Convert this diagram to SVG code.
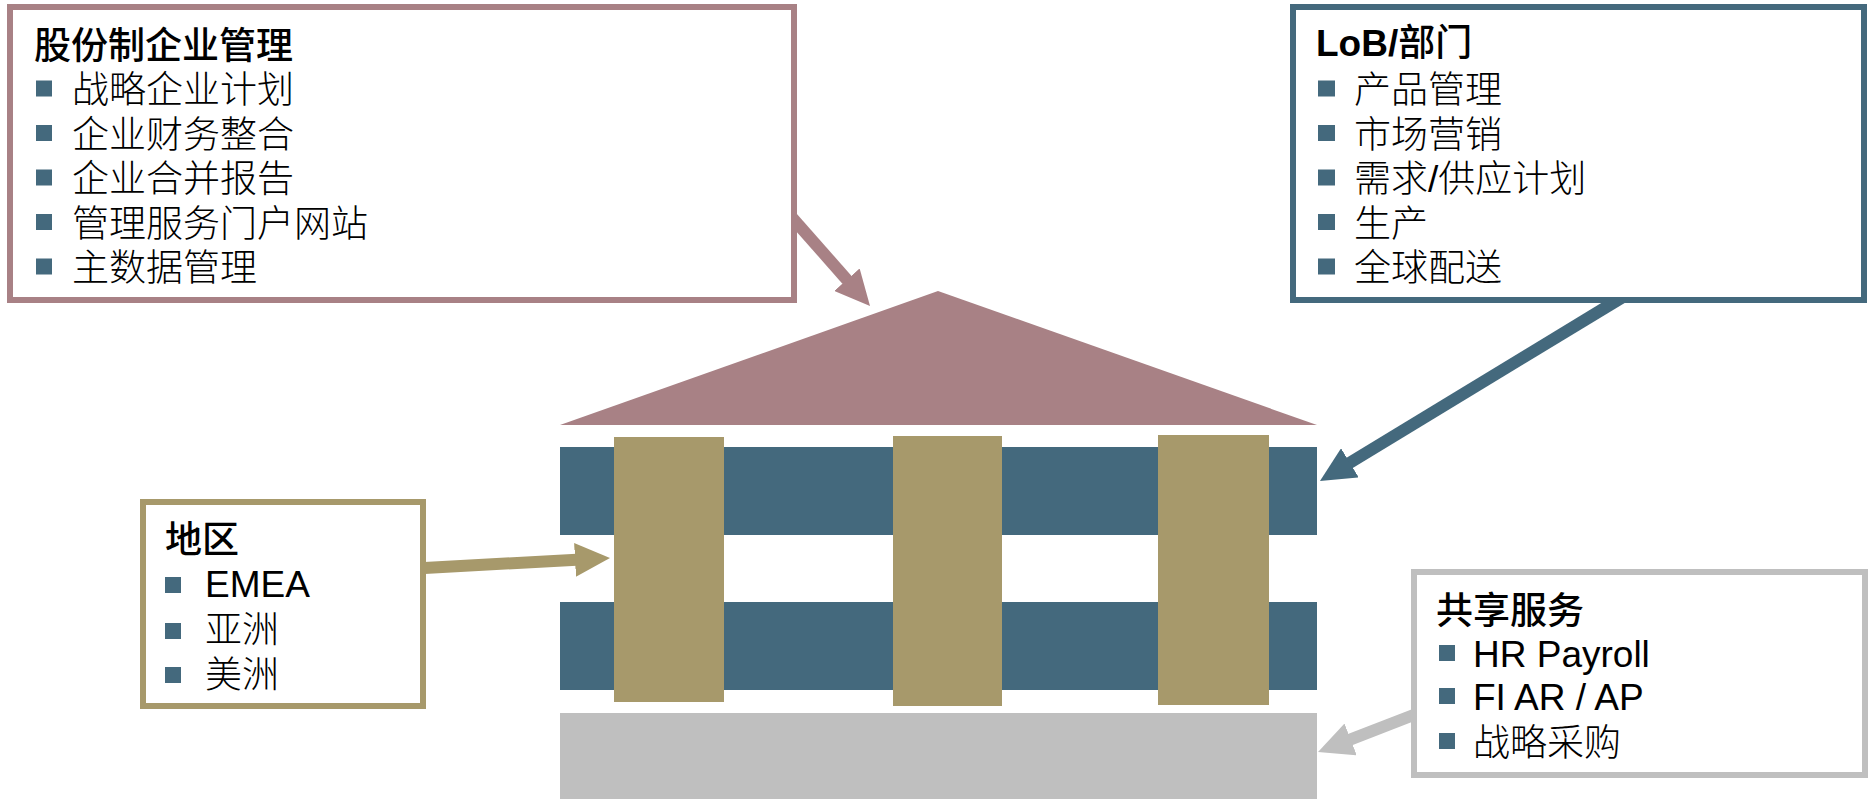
<svg xmlns="http://www.w3.org/2000/svg" width="1869" height="799" viewBox="0 0 1869 799">
<style>
  text { font-family: "Liberation Sans", "Noto Sans CJK SC", sans-serif; font-size: 37px; fill: #000; }
  .t { font-weight: 500; }
  .tb { font-weight: 700; }
  .it { font-weight: 300; }
  .box { fill: #fff; stroke-width: 6; }
  .bul { fill: #44697D; }
  .conn { fill: none; stroke-width: 12; }
</style>
<defs>
  <marker id="ahPink" markerUnits="userSpaceOnUse" markerWidth="35" markerHeight="34" viewBox="0 0 35 34" refX="20" refY="17" orient="auto"><path d="M0,0 L35,17 L0,34 Z" fill="#A88185"/></marker>
  <marker id="ahBlue" markerUnits="userSpaceOnUse" markerWidth="35" markerHeight="34" viewBox="0 0 35 34" refX="20" refY="17" orient="auto"><path d="M0,0 L35,17 L0,34 Z" fill="#44697D"/></marker>
  <marker id="ahTan" markerUnits="userSpaceOnUse" markerWidth="35" markerHeight="34" viewBox="0 0 35 34" refX="20" refY="17" orient="auto"><path d="M0,0 L35,17 L0,34 Z" fill="#A7996B"/></marker>
  <marker id="ahGray" markerUnits="userSpaceOnUse" markerWidth="35" markerHeight="34" viewBox="0 0 35 34" refX="20" refY="17" orient="auto"><path d="M0,0 L35,17 L0,34 Z" fill="#BFBFBF"/></marker>
</defs>
<rect width="1869" height="799" fill="#fff"/>

<g id="connectors">
  <line class="conn" x1="790" y1="215.2" x2="860.1" y2="294.7" stroke="#A88185" marker-end="url(#ahPink)"/>
  <line class="conn" x1="1622" y1="297.5" x2="1332.8" y2="473.2" stroke="#44697D" marker-end="url(#ahBlue)"/>
  <line class="conn" x1="420" y1="568.2" x2="595" y2="558.8" stroke="#A7996B" marker-end="url(#ahTan)"/>
  <line class="conn" x1="1420" y1="712.5" x2="1332" y2="746.6" stroke="#BFBFBF" marker-end="url(#ahGray)"/>
</g>

<g id="roof"><polygon points="938,291 560,425 1317,425" fill="#A88185"/></g>
<g id="band-lob-1"><rect x="560" y="447" width="757" height="88" fill="#44697D"/></g>
<g id="band-lob-2"><rect x="560" y="602" width="757" height="88" fill="#44697D"/></g>
<g id="base-shared"><rect x="560" y="713" width="757" height="86" fill="#BFBFBF"/></g>
<g id="column-1"><rect x="614" y="437" width="110" height="265" fill="#A7996B"/></g>
<g id="column-2"><rect x="893" y="436" width="109" height="270" fill="#A7996B"/></g>
<g id="column-3"><rect x="1158" y="435" width="111" height="270" fill="#A7996B"/></g>

<g id="box-enterprise">
  <rect class="box" x="10" y="7" width="784" height="293" stroke="#A88185"/>
  <text class="t" x="34" y="59">股份制企业管理</text>
  <rect class="bul" x="36" y="80.5" width="16" height="16"/>
  <text class="it" x="72" y="103">战略企业计划</text>
  <rect class="bul" x="36" y="125" width="16" height="16"/>
  <text class="it" x="72" y="147.5">企业财务整合</text>
  <rect class="bul" x="36" y="169.5" width="16" height="16"/>
  <text class="it" x="72" y="192">企业合并报告</text>
  <rect class="bul" x="36" y="214" width="16" height="16"/>
  <text class="it" x="72" y="236.5">管理服务门户网站</text>
  <rect class="bul" x="36" y="258.5" width="16" height="16"/>
  <text class="it" x="72" y="281">主数据管理</text>
</g>

<g id="box-lob">
  <rect class="box" x="1293" y="7" width="571" height="293" stroke="#44697D"/>
  <text class="tb" x="1316" y="56">LoB/<tspan class="t">部门</tspan></text>
  <rect class="bul" x="1318" y="80.5" width="17" height="16"/>
  <text class="it" x="1354" y="103">产品管理</text>
  <rect class="bul" x="1318" y="125" width="17" height="16"/>
  <text class="it" x="1354" y="147.5">市场营销</text>
  <rect class="bul" x="1318" y="169.5" width="17" height="16"/>
  <text class="it" x="1354" y="192">需求/供应计划</text>
  <rect class="bul" x="1318" y="214" width="17" height="16"/>
  <text class="it" x="1354" y="236.5">生产</text>
  <rect class="bul" x="1318" y="258.5" width="17" height="16"/>
  <text class="it" x="1354" y="281">全球配送</text>
</g>

<g id="box-region">
  <rect class="box" x="143" y="502" width="280" height="204" stroke="#A7996B"/>
  <text class="t" x="165" y="553">地区</text>
  <rect class="bul" x="165" y="577" width="16" height="16"/>
  <text x="205" y="597">EMEA</text>
  <rect class="bul" x="165" y="623" width="16" height="16"/>
  <text class="it" x="205" y="643">亚洲</text>
  <rect class="bul" x="165" y="667" width="16" height="16"/>
  <text class="it" x="205" y="688">美洲</text>
</g>

<g id="box-shared">
  <rect class="box" x="1414" y="572" width="451" height="203" stroke="#BFBFBF"/>
  <text class="t" x="1436" y="624">共享服务</text>
  <rect class="bul" x="1439" y="645" width="16" height="16"/>
  <text x="1473" y="667">HR Payroll</text>
  <rect class="bul" x="1439" y="688" width="16" height="16"/>
  <text x="1473" y="710">FI AR / AP</text>
  <rect class="bul" x="1439" y="733" width="16" height="16"/>
  <text class="it" x="1473" y="755.5">战略采购</text>
</g>
</svg>
